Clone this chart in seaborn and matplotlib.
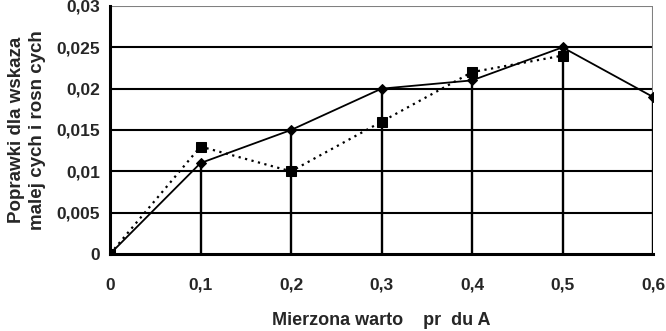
import matplotlib
matplotlib.use("Agg")
import matplotlib.pyplot as plt
import seaborn as sns
import pandas as pd
from matplotlib.ticker import FixedLocator

x_solid = [0.0, 0.1, 0.2, 0.3, 0.4, 0.5, 0.6]
y_solid = [0.0, 0.011, 0.015, 0.020, 0.021, 0.025, 0.019]
x_dotted = [0.0, 0.1, 0.2, 0.3, 0.4, 0.5]
y_dotted = [0.0, 0.013, 0.010, 0.016, 0.022, 0.024]
x_ticks = [0, 0.1, 0.2, 0.3, 0.4, 0.5, 0.6]
x_ticklabels = ["0", "0,1", "0,2", "0,3", "0,4", "0,5", "0,6"]
y_ticks = [0, 0.005, 0.01, 0.015, 0.02, 0.025, 0.03]
y_ticklabels = ["0", "0,005", "0,01", "0,015", "0,02", "0,025", "0,03"]
x_label = "Mierzona warto    pr  du A"
y_label = "Poprawki dla wskaza\nmalej cych i rosn cych"

sns.set_style("white")
plt.rcParams["font.family"] = ["Liberation Sans", "DejaVu Sans"]

fig = plt.figure(figsize=(6.66, 3.31), dpi=100)
ax = fig.add_axes([110/666, 1 - 254/331, (653-110)/666, (254-6)/331])

df_s = pd.DataFrame({"x": x_solid, "y": y_solid})
df_d = pd.DataFrame({"x": x_dotted, "y": y_dotted})

# horizontal grid lines
for yv in y_ticks[1:-1]:
    ax.axhline(yv, color="black", lw=1.5, zorder=1)
ax.axhline(y_ticks[-1], color="#808080", lw=1.5, zorder=1)
ax.axvline(x_ticks[-1], color="#808080", lw=1.5, zorder=1)

# drop lines from solid series
ax.vlines(df_s["x"], 0, df_s["y"], color="black", lw=1.7, zorder=2)

sns.lineplot(data=df_d, x="x", y="y", ax=ax, color="black", lw=1.6,
             linestyle=(0, (1, 2)), marker="s", markersize=6.5,
             markeredgecolor="black", zorder=3)
sns.lineplot(data=df_s, x="x", y="y", ax=ax, color="black", lw=1.3,
             marker="D", markersize=5, markeredgecolor="black", zorder=4)

ax.set_xlim(0, 0.6)
ax.set_ylim(0, 0.03)
ax.xaxis.set_major_locator(FixedLocator(x_ticks))
ax.yaxis.set_major_locator(FixedLocator(y_ticks))
fs = 12.5
ax.set_xticklabels(x_ticklabels, fontsize=fs, fontweight="bold")
ax.set_yticklabels(y_ticklabels, fontsize=fs, fontweight="bold")

for s in ["top", "right"]:
    ax.spines[s].set_visible(False)
for s in ["left", "bottom"]:
    ax.spines[s].set_linewidth(2.2)
    ax.spines[s].set_color("black")
ax.tick_params(axis="y", direction="out", length=5, width=2.2, pad=2)
ax.tick_params(axis="x", direction="out", length=4, width=2.2, pad=13)

ax.set_xlabel(x_label, fontsize=13, fontweight="bold", labelpad=14)
ax.set_ylabel(y_label, fontsize=13.5, fontweight="bold", labelpad=8, linespacing=1.3)

fig.savefig("out.png", dpi=100)
